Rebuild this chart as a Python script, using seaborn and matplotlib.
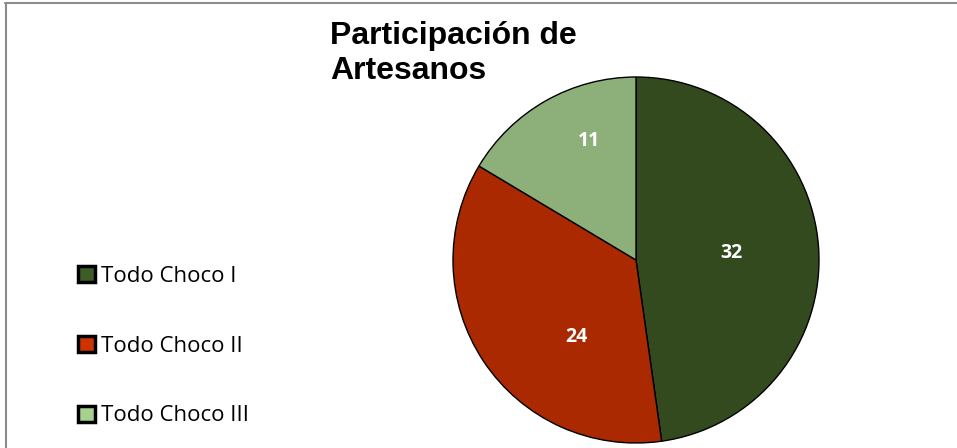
import matplotlib
matplotlib.use("Agg")
import matplotlib.pyplot as plt
import seaborn as sns
from matplotlib.patches import Patch
from matplotlib.lines import Line2D

categories = ["Todo Choco I", "Todo Choco II", "Todo Choco III"]
values = [32, 24, 11]
title_text = "Participación de\nArtesanos"

pie_colors = ["#324A1E", "#AA2900", "#8DB07A"]
legend_colors = ["#3D5C28", "#CC3300", "#A9D18E"]

sns.set_theme(style="white")
plt.rcParams["font.family"] = ["Open Sans", "DejaVu Sans"]
plt.rcParams["text.color"] = "black"

W, H = 957, 448
fig = plt.figure(figsize=(W / 100, H / 100), dpi=100)
fig.patch.set_facecolor("white")

cx, cy, r = 636, 260, 183
ax = fig.add_axes([(cx - r) / W, (H - cy - r) / H, 2 * r / W, 2 * r / H])
wedges, _ = ax.pie(values, colors=pie_colors, startangle=90, counterclock=False,
                   wedgeprops=dict(edgecolor="black", linewidth=1.0))
ax.set_aspect("equal")
ax.set_xlim(-1, 1)
ax.set_ylim(-1, 1)
ax.axis("off")

# value labels
label_pos = [(731, 253), (576, 337), (589, 141)]
for (px, py), v in zip(label_pos, values):
    fig.text(px / W, 1 - py / H, str(v), color="white", fontsize=14, fontweight="bold",
             ha="center", va="center", family=["Open Sans", "DejaVu Sans"])

# title
fig.text(330 / W, 1 - 21 / H, title_text, fontsize=23, fontweight="bold", color="black",
         family=["Liberation Sans", "DejaVu Sans"], ha="left", va="top",
         linespacing=1.22)

# legend
handles = [Patch(facecolor=c, edgecolor="black", linewidth=2.5) for c in legend_colors]
leg = fig.legend(handles, categories, loc="center left",
                 bbox_to_anchor=(67 / W, 1 - 346 / H), frameon=False,
                 fontsize=16, handlelength=0.75, handleheight=0.75,
                 handletextpad=0.3, labelspacing=2.2, borderpad=0,
                 labelcolor="black")

# figure border (top and left only visible)
fig.add_artist(Line2D([5 / W, 1.0], [1 - 3.5 / H, 1 - 3.5 / H], color="#8c8c8c", linewidth=1.5,
                      transform=fig.transFigure))
fig.add_artist(Line2D([5.5 / W, 5.5 / W], [0, 1 - 3.5 / H], color="#8c8c8c", linewidth=1.5,
                      transform=fig.transFigure))

fig.savefig("out.png", dpi=100, facecolor="white")
